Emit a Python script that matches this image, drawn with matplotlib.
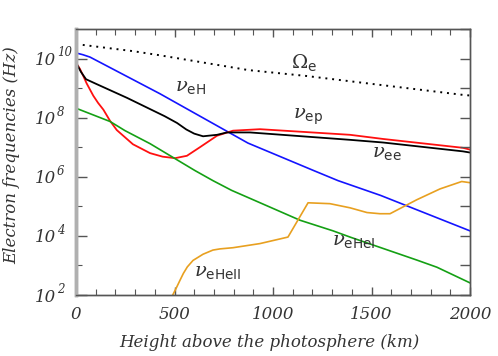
import numpy as np
import matplotlib
matplotlib.use('Agg')
import matplotlib.pyplot as plt
import matplotlib.transforms as mtransforms
from matplotlib.ticker import FixedLocator, FuncFormatter, NullFormatter

plt.rcParams['mathtext.fontset'] = 'dejavuserif'

# heights in km, frequencies as log10(Hz)
omega_h = [0, 290, 426, 875, 1170, 1965, 2000]
omega_v = [10.49, 10.25, 10.11, 9.61, 9.41, 8.77, 8.75]

eH_h = [0, 35, 71, 426, 873, 1203, 1330, 1546, 2000]
eH_v = [10.19, 10.13, 10.05, 8.81, 7.14, 6.22, 5.87, 5.37, 4.17]

ep_h = [0, 20, 37, 54, 88, 112, 139, 173, 207, 289, 376, 440, 503, 563, 629, 716, 797, 934, 1391, 1558, 1964, 2000]
ep_v = [9.86, 9.65, 9.41, 9.16, 8.74, 8.5, 8.27, 7.89, 7.58, 7.1, 6.8, 6.68, 6.63, 6.71, 7.0, 7.39, 7.56, 7.61, 7.42, 7.28, 6.98, 6.92]

ee_h = [0, 25, 51, 100, 259, 376, 450, 513, 560, 600, 645, 716, 766, 883, 1391, 1558, 1964, 2000]
ee_v = [9.86, 9.55, 9.3, 9.15, 8.67, 8.29, 8.05, 7.82, 7.6, 7.46, 7.37, 7.42, 7.5, 7.5, 7.25, 7.16, 6.86, 6.82]

heI_h = [0, 173, 249, 376, 604, 695, 790, 883, 1137, 1305, 1391, 1731, 1832, 2000]
heI_v = [8.32, 7.87, 7.56, 7.12, 6.21, 5.87, 5.54, 5.27, 4.53, 4.17, 3.96, 3.18, 2.94, 2.41]

heII_h = [491, 510, 528, 545, 565, 594, 645, 695, 731, 797, 934, 1076, 1178, 1289, 1391, 1477, 1543, 1594, 1729, 1848, 1958, 2000]
heII_v = [2.0, 2.25, 2.5, 2.73, 2.95, 3.17, 3.38, 3.52, 3.56, 3.6, 3.74, 3.96, 5.12, 5.09, 4.95, 4.79, 4.75, 4.75, 5.22, 5.59, 5.84, 5.8]

y_decades = [2, 4, 6, 8, 10]

fig = plt.figure(figsize=(4.98, 3.56), dpi=100)
ax = fig.add_axes([76/498, 1-295/356, 394/498, 266/356])

def p(h, v, **kw):
    ax.plot(h, 10.0**np.array(v), **kw)

p(omega_h, omega_v, color='black', lw=1.4, ls=(0, (1, 2.5)))
p(eH_h, eH_v, color='#1414ff', lw=1.2)
p(ep_h, ep_v, color='#ff1010', lw=1.3)
p(ee_h, ee_v, color='black', lw=1.3)
p(heI_h, heI_v, color='#14a014', lw=1.2)
p(heII_h, heII_v, color='#e8a020', lw=1.2)

ax.set_yscale('log')
ax.set_xlim(0, 2000)
ax.set_ylim(1e2, 1e11)

tc = '#555555'
txt = '#333333'
ax.xaxis.set_major_locator(FixedLocator([0, 500, 1000, 1500, 2000]))
ax.xaxis.set_minor_locator(FixedLocator(np.arange(0, 2001, 100)))
ax.yaxis.set_major_locator(FixedLocator([10.0**k for k in y_decades]))
ax.yaxis.set_minor_locator(FixedLocator([1e3, 1e5, 1e7, 1e9]))
ax.yaxis.set_minor_formatter(NullFormatter())
ax.yaxis.set_major_formatter(NullFormatter())
ax.xaxis.set_major_formatter(FuncFormatter(lambda v, pos: '%d' % v))

ax.tick_params(which='both', direction='in', top=True, right=False, colors=tc)
ax.tick_params(axis='x', which='major', length=6, width=1, pad=8, labelsize=12)
ax.tick_params(axis='x', which='minor', length=4, width=0.8)
ax.tick_params(axis='y', which='major', length=8, width=1)
ax.tick_params(axis='y', which='minor', length=4, width=0.8)
for lab in ax.get_xticklabels():
    lab.set_fontfamily('DejaVu Serif')
    lab.set_fontstyle('italic')
    lab.set_color(txt)

# y tick labels written as 10 with a raised exponent
trans = mtransforms.blended_transform_factory(ax.transAxes, ax.transData)
for k in y_decades:
    ax.annotate('10', xy=(-0.05, 10.0**k), xycoords=trans, xytext=(0, -1.5),
                textcoords='offset points', ha='right', va='center',
                family='DejaVu Serif', style='italic', size=12, color=txt)
    ax.annotate(str(k), xy=(-0.05, 10.0**k), xycoords=trans, xytext=(0.5, 4),
                textcoords='offset points', ha='left', va='center',
                family='DejaVu Serif', style='italic', size=8.5, color=txt)

# right side ticks at every decade
ax2 = ax.twinx()
ax2.set_yscale('log')
ax2.set_ylim(1e2, 1e11)
ax2.yaxis.set_major_locator(FixedLocator([10.0**k for k in range(2, 12)]))
ax2.yaxis.set_minor_locator(FixedLocator([]))
ax2.yaxis.set_major_formatter(NullFormatter())
ax2.tick_params(axis='y', direction='in', length=7, width=1, colors=tc)

for a in (ax, ax2):
    for s in ['top', 'right', 'bottom']:
        a.spines[s].set_color(tc)
        a.spines[s].set_linewidth(1)
    a.spines['left'].set_color('#b0b0b0')
    a.spines['left'].set_linewidth(2.5)

lab_font = dict(family='DejaVu Serif', style='italic', size=12, color=txt)
ax.set_xlabel('Height above the photosphere (km)', **lab_font)
ax.set_ylabel('Electron frequencies (Hz)', **lab_font)
ax.xaxis.set_label_coords(0.492, -0.145)
ax.yaxis.set_label_coords(-0.142, 0.526)

tk = dict(color=txt, fontsize=14)
ax.text(500, 10**8.9, r'$\nu_{\mathsf{eH}}$', **tk)
ax.text(1090, 10**9.68, r'$\Omega_{\mathsf{e}}$', **tk)
ax.text(1100, 10**7.94, r'$\nu_{\mathsf{ep}}$', **tk)
ax.text(1500, 10**6.68, r'$\nu_{\mathsf{ee}}$', **tk)
ax.text(1300, 10**3.7, r'$\nu_{\mathsf{eHeI}}$', **tk)
ax.text(600, 10**2.64, r'$\nu_{\mathsf{eHeII}}$', **tk)

fig.savefig('out.png', dpi=100)
